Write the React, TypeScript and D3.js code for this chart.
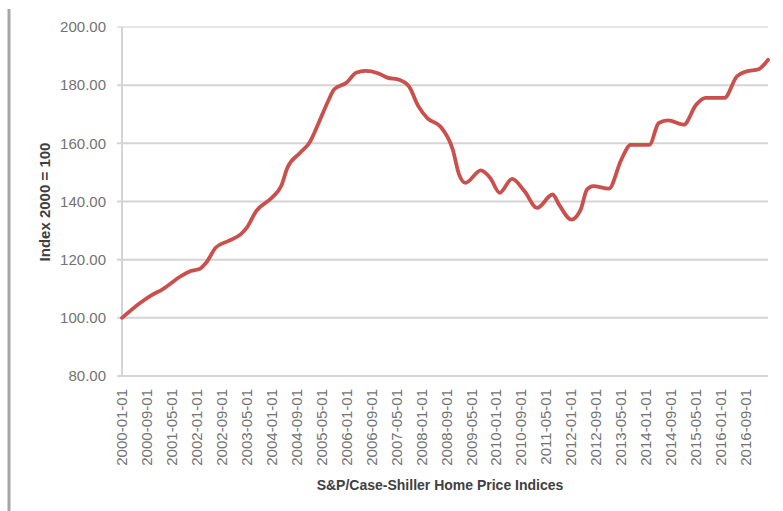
import React, { Component } from 'react';
import * as d3 from "d3";

// month labels shown on the category axis (every 8th month)
const tickLabels = [
  "2000-01-01", "2000-09-01", "2001-05-01", "2002-01-01", "2002-09-01", "2003-05-01",
  "2004-01-01", "2004-09-01", "2005-05-01", "2006-01-01", "2006-09-01", "2007-05-01",
  "2008-01-01", "2008-09-01", "2009-05-01", "2010-01-01", "2010-09-01", "2011-05-01",
  "2012-01-01", "2012-09-01", "2013-05-01", "2014-01-01", "2014-09-01", "2015-05-01",
  "2016-01-01", "2016-09-01"
];

// index readings
const months = [
  "2000-01", "2000-07", "2000-10", "2001-02", "2001-08", "2001-11", "2002-02", "2002-04",
  "2002-07", "2002-11", "2003-03", "2003-05", "2003-08", "2004-01", "2004-04", "2004-06",
  "2004-10", "2005-01", "2005-04", "2005-07", "2005-09", "2006-01", "2006-04", "2006-07",
  "2006-11", "2007-02", "2007-06", "2007-09", "2007-12", "2008-03", "2008-07", "2008-11",
  "2009-01", "2009-03", "2009-08", "2009-11", "2010-02", "2010-06", "2010-10", "2011-02",
  "2011-07", "2011-09", "2012-01", "2012-04", "2012-06", "2012-08", "2013-01", "2013-05",
  "2013-08", "2014-02", "2014-05", "2014-08", "2015-01", "2015-05", "2015-08", "2016-02",
  "2016-06", "2016-09", "2017-01", "2017-04"
];
const values = [
  100.0, 105.3, 107.5, 109.8, 114.4, 116.1, 116.9, 119.0,
  124.1, 126.4, 128.7, 131.0, 136.7, 141.3, 145.3, 151.6,
  156.7, 160.1, 167.0, 174.4, 178.6, 180.9, 184.3, 184.9,
  184.1, 182.6, 181.8, 179.5, 172.7, 168.5, 165.8, 157.8,
  149.3, 146.4, 150.7, 148.1, 143.0, 147.8, 143.5, 137.8,
  142.4, 139.0, 133.8, 137.3, 144.1, 145.3, 144.4, 154.4,
  159.5, 159.5, 167.0, 167.9, 166.4, 173.3, 175.6, 175.6,
  183.0, 184.7, 185.5, 188.7
];

const yTicks = [80, 100, 120, 140, 160, 180, 200];

const monthIndex = (s: string) => {
  const [y, m] = s.split("-").map(Number);
  return (y - 2000) * 12 + (m - 1);
};

class Graph extends Component {
  node: HTMLDivElement | null = null;

  componentDidMount() {
    this.createGraph()
  }

  createGraph() {
    if (!this.node) return;
    d3.select(this.node).selectAll("*").remove();

    const W = 783, H = 511;
    const plot = { left: 122, right: 768, top: 27, bottom: 376 };

    const lastMonth = monthIndex(months[months.length - 1]);
    const xScale = d3.scaleLinear().domain([0, lastMonth]).range([plot.left, plot.right]);
    const yScale = d3.scaleLinear().domain([80, 200]).range([plot.bottom, plot.top]);

    const dataset = months.map((m, i) => ({ x: monthIndex(m), y: values[i] }));

    const svg = d3
      .select(this.node)
      .append("svg")
      .attr("width", W)
      .attr("height", H)
      .style("display", "block")
      .style("font-family", "'Liberation Sans', Arial, sans-serif");

    svg.append("rect").attr("width", W).attr("height", H).attr("fill", "#fff");

    // gray frame edge on the left
    svg.append("line")
      .attr("x1", 9).attr("x2", 9)
      .attr("y1", 9).attr("y2", H)
      .attr("stroke", "#a6a6a6")
      .attr("stroke-width", 3);

    // horizontal gridlines (with little ticks left of axis)
    svg.append("g")
      .selectAll("line")
      .data(yTicks)
      .enter()
      .append("line")
      .attr("x1", plot.left - 5)
      .attr("x2", plot.right)
      .attr("y1", d => yScale(d))
      .attr("y2", d => yScale(d))
      .attr("stroke", d => (d === 200 ? "#e6e6e6" : "#d4d4d4"))
      .attr("stroke-width", 2);

    // vertical axis
    svg.append("line")
      .attr("x1", plot.left).attr("x2", plot.left)
      .attr("y1", plot.top).attr("y2", plot.bottom)
      .attr("stroke", "#d4d4d4")
      .attr("stroke-width", 2);

    // y tick labels
    svg.append("g")
      .selectAll("text")
      .data(yTicks)
      .enter()
      .append("text")
      .attr("x", 106)
      .attr("y", d => yScale(d))
      .attr("dy", "0.35em")
      .attr("text-anchor", "end")
      .attr("font-size", 15)
      .attr("fill", "#737373")
      .text(d => d.toFixed(2));

    // x tick labels, rotated
    svg.append("g")
      .selectAll("text")
      .data(tickLabels)
      .enter()
      .append("text")
      .attr("text-anchor", "end")
      .attr("font-size", 15)
      .attr("fill", "#737373")
      .attr("transform", d => `translate(${xScale(monthIndex(d.slice(0, 7))) + 5},389)rotate(-90)`)
      .text(d => d);

    // the index line
    const line = d3
      .line<{ x: number; y: number }>()
      .x(d => xScale(d.x))
      .y(d => yScale(d.y))
      .curve(d3.curveMonotoneX);

    svg.append("path")
      .datum(dataset)
      .attr("d", line)
      .attr("fill", "none")
      .attr("stroke", "#c9504c")
      .attr("stroke-width", 3.8)
      .attr("stroke-linejoin", "round")
      .attr("stroke-linecap", "round");

    // axis titles
    svg.append("text")
      .attr("text-anchor", "middle")
      .attr("transform", `translate(50,202)rotate(-90)`)
      .attr("font-size", 15)
      .attr("font-weight", "bold")
      .attr("fill", "#404040")
      .text("Index 2000 = 100");

    svg.append("text")
      .attr("text-anchor", "middle")
      .attr("x", 440)
      .attr("y", 490)
      .attr("font-size", 14)
      .attr("font-weight", "bold")
      .attr("fill", "#404040")
      .text("S&P/Case-Shiller Home Price Indices");
  }

  render() {
    return (
      <div
        ref={node => { this.node = node; }}
        style={{ position: "absolute", left: 0, top: 0 }}
      />
    );
  }
}

export default function App() {
  return <Graph />;
}
